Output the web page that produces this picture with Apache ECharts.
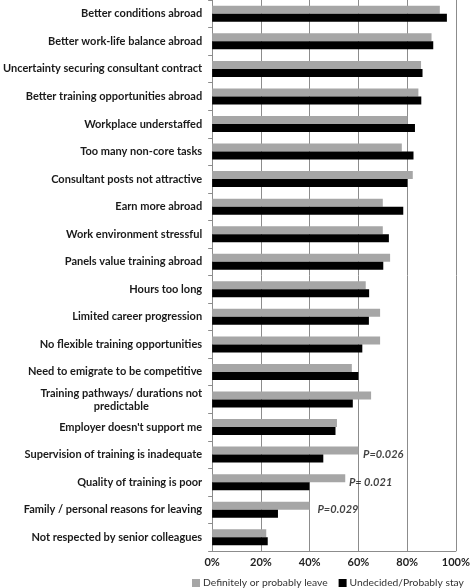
<!DOCTYPE html>
<html>
<head>
<meta charset="utf-8">
<script src="https://cdn.jsdelivr.net/npm/echarts@6/dist/echarts.min.js"></script>
<style>html,body{margin:0;padding:0;background:#fff;}#c{width:473px;height:588px;}</style>
</head>
<body>
<div id="c"></div>
<script>
const categories = [
  "Better conditions abroad",
  "Better work-life balance abroad",
  "Uncertainty securing consultant contract",
  "Better training opportunities abroad",
  "Workplace understaffed",
  "Too many non-core tasks",
  "Consultant posts not attractive",
  "Earn more abroad",
  "Work environment stressful",
  "Panels value training abroad",
  "Hours too long",
  "Limited career progression",
  "No flexible training opportunities",
  "Need to emigrate to be competitive",
  "Training pathways/ durations not\npredictable",
  "Employer doesn't support me",
  "Supervision of training is inadequate",
  "Quality of training is poor",
  "Family / personal reasons for leaving",
  "Not respected by senior colleagues"
];
const leaveValues = [93.4, 90.0, 85.7, 84.6, 80.1, 77.8, 82.3, 70.0, 70.0, 73.0, 63.0, 68.9, 68.9, 57.3, 65.2, 51.2, 60.0, 54.6, 40.0, 22.2];
const stayValues  = [96.3, 90.7, 86.3, 85.8, 83.2, 82.6, 80.1, 78.4, 72.5, 70.2, 64.4, 64.3, 61.6, 60.0, 57.7, 50.6, 45.6, 39.9, 27.0, 22.8];
const seriesNames = ["Definitely or probably leave", "Undecided/Probably stay"];
const xTicks = [0, 20, 40, 60, 80, 100];
const pLabels = ["P=0.026", "P= 0.021", "P=0.029"];
const pCategories = ["Supervision of training is inadequate", "Quality of training is poor", "Family / personal reasons for leaving"];
const pPositions = [70.2, 65.0, 51.6];

const chart = echarts.init(document.getElementById('c'), null, {renderer: 'canvas'});
const labelFont = 'Lato';
chart.setOption({
  animation: false,
  backgroundColor: '#fff',
  grid: {left: 191, right: 12, top: 0, bottom: 37, containLabel: false},
  legend: {
    data: seriesNames,
    left: 192, top: 578, width: 290, padding: 0,
    itemWidth: 8, itemHeight: 8, itemGap: 11,
    icon: 'rect',
    textStyle: {fontFamily: labelFont, fontSize: 10.3, color: '#333', padding: [0, 0, 0, -2]}
  },
  xAxis: {
    type: 'value', min: xTicks[0], max: xTicks[xTicks.length - 1], interval: 20,
    axisLine: {show: true, lineStyle: {color: '#8c8c8c'}},
    axisTick: {show: false},
    splitLine: {show: true, lineStyle: {color: '#8c8c8c', width: 1}},
    axisLabel: {formatter: '{value}%', margin: 6, fontFamily: labelFont, fontWeight: 'bold', fontSize: 11, color: '#222'}
  },
  yAxis: {
    type: 'category', data: categories, inverse: true,
    axisLine: {show: true, lineStyle: {color: '#8c8c8c'}},
    axisTick: {show: true, length: 4, lineStyle: {color: '#8c8c8c'}},
    axisLabel: {
      margin: 10, fontFamily: labelFont, fontWeight: 'bold', fontSize: 11, color: '#1a1a1a', lineHeight: 13,
      formatter: function (v) { return v.split('\n').map(s => '{c|' + s + '}').join('\n'); },
      rich: {c: {align: 'center', fontFamily: labelFont, fontWeight: 'bold', fontSize: 11, color: '#1a1a1a', lineHeight: 13}}
    }
  },
  series: [
    {name: seriesNames[0], type: 'bar', data: leaveValues, barWidth: 8, barGap: '0%', itemStyle: {color: '#a6a6a6'}},
    {name: seriesNames[1], type: 'bar', data: stayValues, barWidth: 8, barGap: '0%', itemStyle: {color: '#000'}},
    {
      type: 'scatter', symbolSize: 0, silent: true,
      data: pPositions.map((x, i) => ({value: [x, pCategories[i]], name: pLabels[i]})),
      label: {show: true, position: 'inside', formatter: p => p.name, fontFamily: labelFont, fontStyle: 'italic', fontWeight: 'bold', fontSize: 11, color: '#111'}
    }
  ]
});
</script>
</body>
</html>
